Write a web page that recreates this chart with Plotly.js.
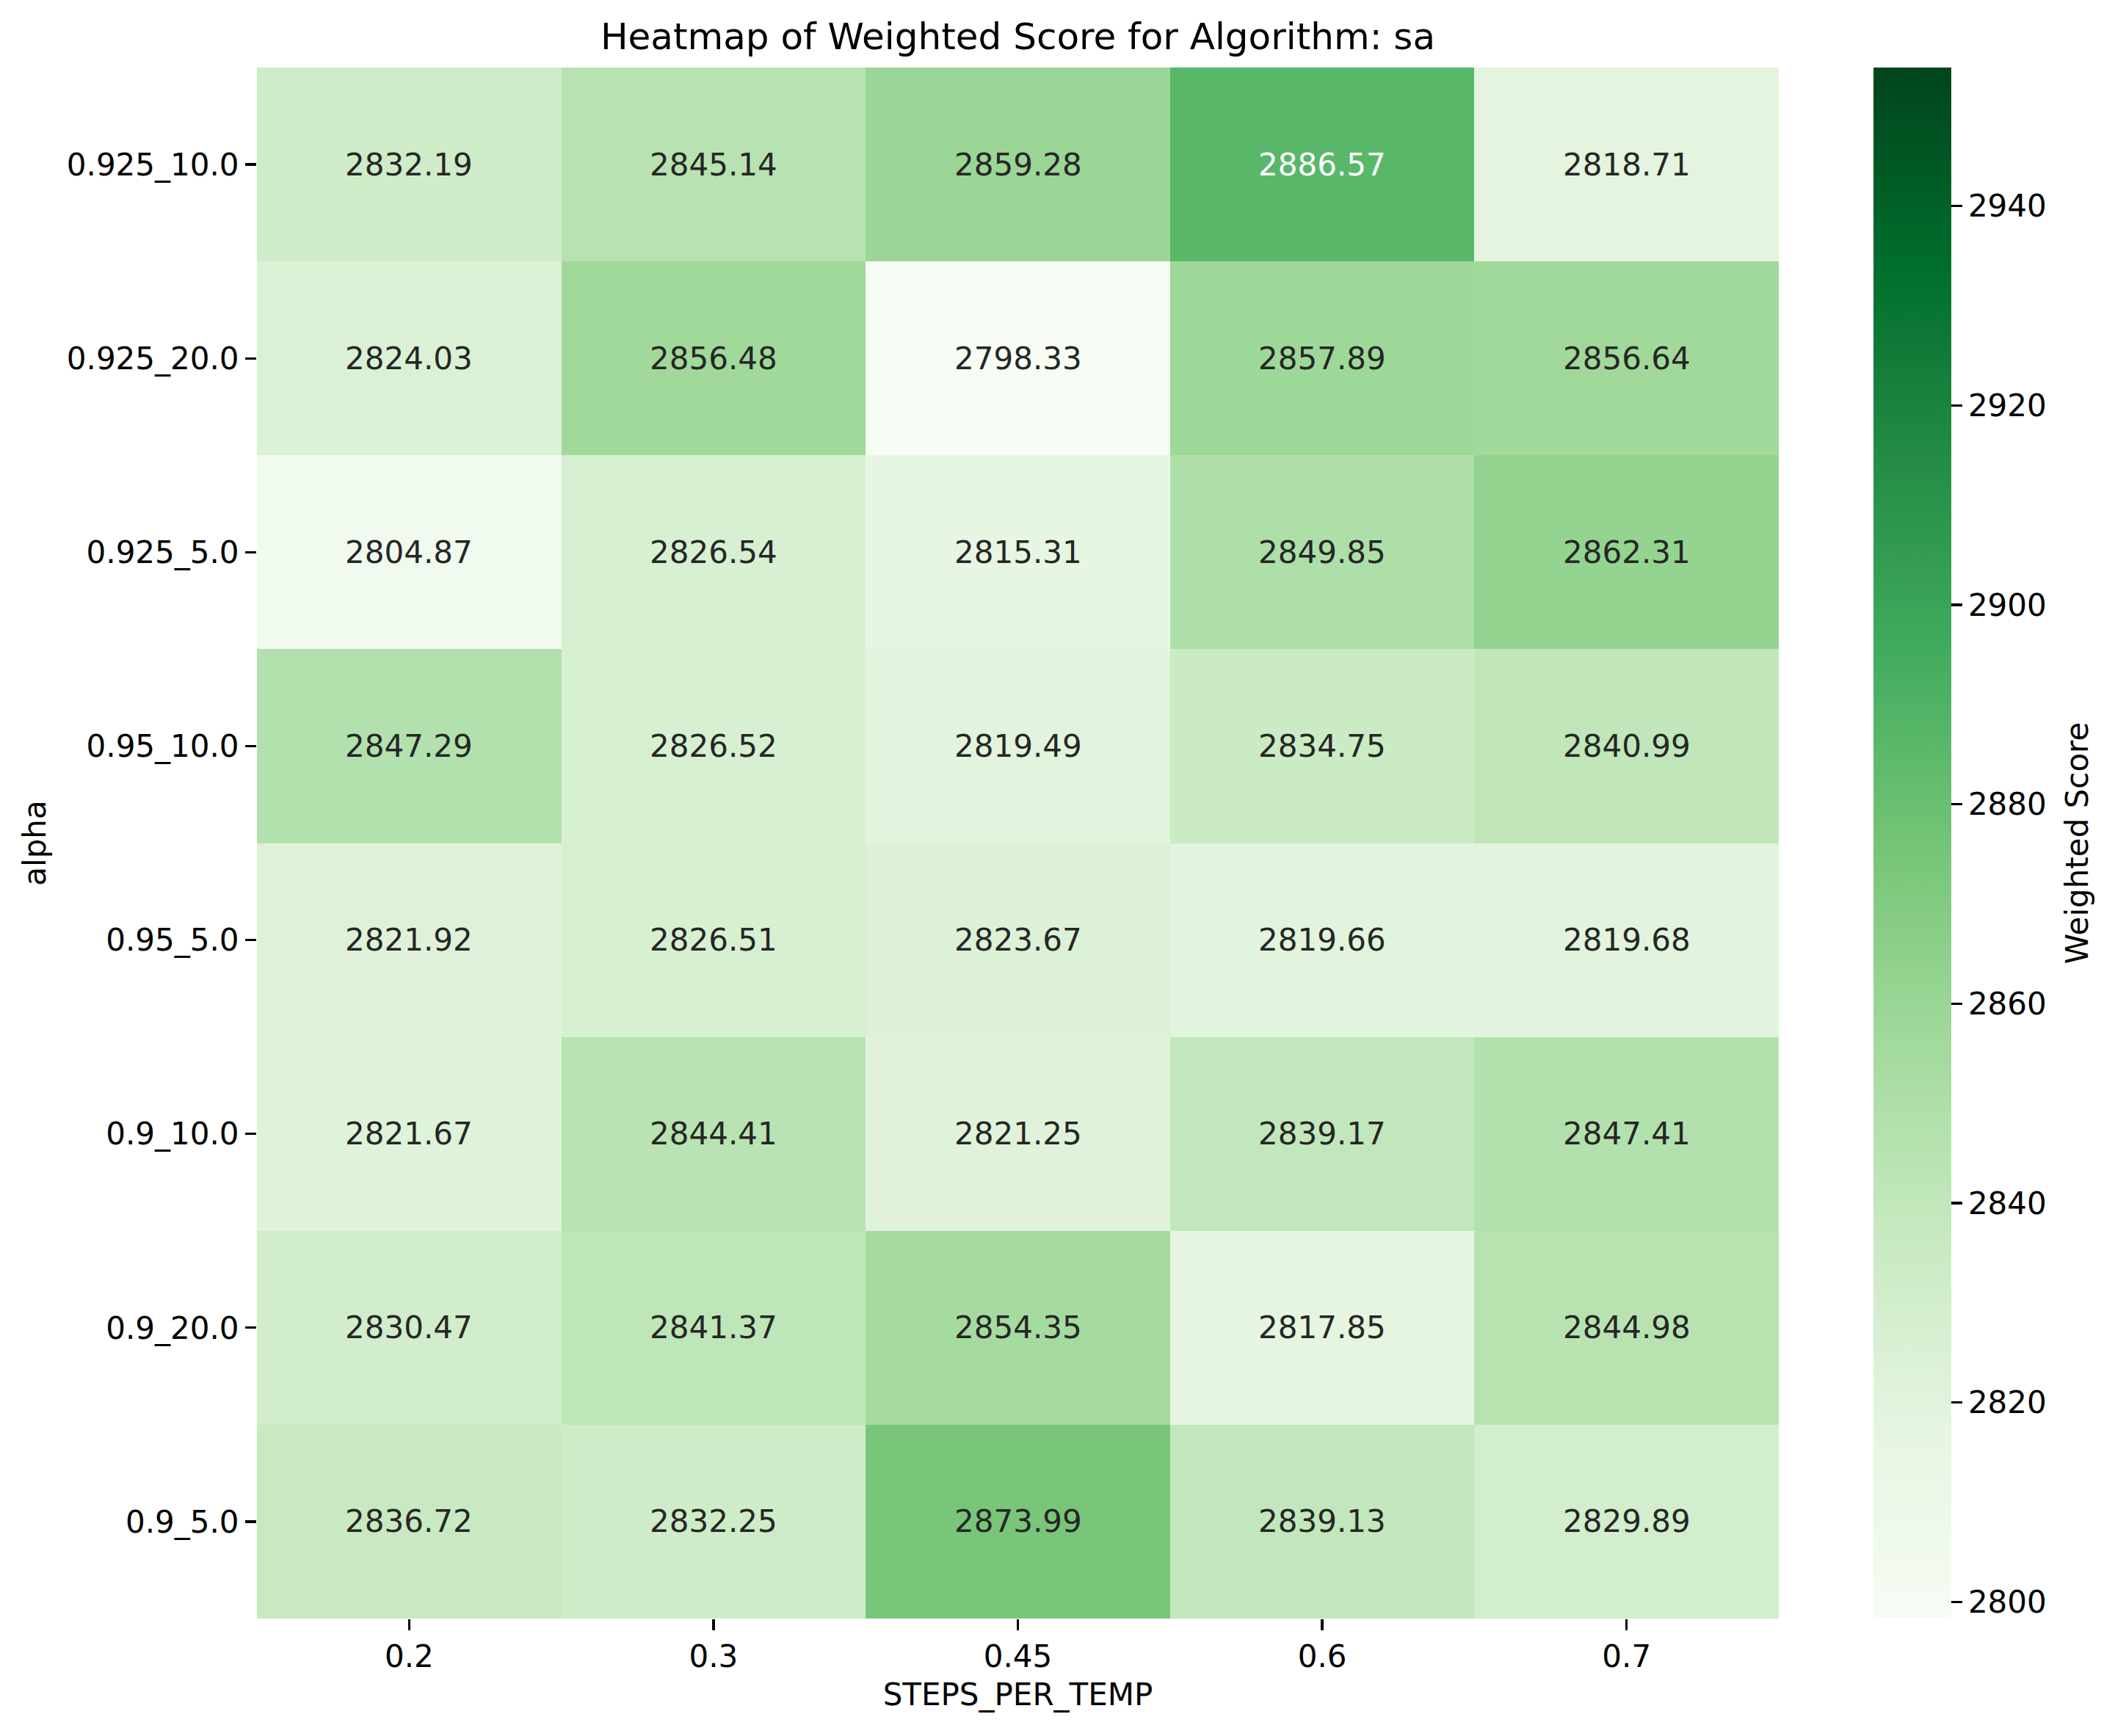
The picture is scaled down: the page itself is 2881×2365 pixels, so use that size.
<!DOCTYPE html>
<html>
<head>
<meta charset="utf-8">
<script src="https://cdn.plot.ly/plotly-3.0.1.min.js"></script>
<style>html,body{margin:0;padding:0;background:#fff;}</style>
</head>
<body>
<div id="chart" style="width:2881px;height:2365px;"></div>
<script>
const stepsPerTemp = ["0.2", "0.3", "0.45", "0.6", "0.7"];
const alphaLabels = ["0.925_10.0", "0.925_20.0", "0.925_5.0", "0.95_10.0", "0.95_5.0", "0.9_10.0", "0.9_20.0", "0.9_5.0"];
const row_0925_10 = [2832.19, 2845.14, 2859.28, 2886.57, 2818.71];
const row_0925_20 = [2824.03, 2856.48, 2798.33, 2857.89, 2856.64];
const row_0925_5  = [2804.87, 2826.54, 2815.31, 2849.85, 2862.31];
const row_095_10  = [2847.29, 2826.52, 2819.49, 2834.75, 2840.99];
const row_095_5   = [2821.92, 2826.51, 2823.67, 2819.66, 2819.68];
const row_09_10   = [2821.67, 2844.41, 2821.25, 2839.17, 2847.41];
const row_09_20   = [2830.47, 2841.37, 2854.35, 2817.85, 2844.98];
const row_09_5    = [2836.72, 2832.25, 2873.99, 2839.13, 2829.89];
const scores = [row_0925_10, row_0925_20, row_0925_5, row_095_10, row_095_5, row_09_10, row_09_20, row_09_5];
const colorbarTicks = [2800, 2820, 2840, 2860, 2880, 2900, 2920, 2940];
const zMin = 2798.33;
const zMax = 2953.9;

const greens = ["#f7fcf5","#e5f5e0","#c7e9c0","#a1d99b","#74c476","#41ab5d","#238b45","#006d2c","#00441b"];
const colorscale = greens.map((c, i) => [i / (greens.length - 1), c]);

function hexToRgb(h){return [parseInt(h.slice(1,3),16),parseInt(h.slice(3,5),16),parseInt(h.slice(5,7),16)];}
function colorAt(v){
  let t = (v - zMin) / (zMax - zMin); t = Math.max(0, Math.min(1, t));
  const n = greens.length - 1; const i = Math.min(n - 1, Math.floor(t * n)); const f = t * n - i;
  const a = hexToRgb(greens[i]), b = hexToRgb(greens[i+1]);
  return a.map((x, k) => (x + (b[k] - x) * f) / 255);
}
function lum(rgb){
  const c = rgb.map(x => x <= 0.03928 ? x / 12.92 : Math.pow((x + 0.055) / 1.055, 2.4));
  return 0.2126 * c[0] + 0.7152 * c[1] + 0.0722 * c[2];
}

const W = 2881, H = 2365;
const mL = 350, mR = W - 2423, mT = 92, mB = H - 2205;
const plotW = W - mL - mR;

const annotations = [];
scores.forEach((row, r) => row.forEach((v, c) => {
  annotations.push({
    x: c, y: r, xref: 'x', yref: 'y',
    text: v.toFixed(2), showarrow: false,
    font: {family: 'DejaVu Sans', size: 42, color: lum(colorAt(v)) > 0.408 ? '#262626' : '#ffffff'}
  });
}));
annotations.push({
  text: 'Weighted Score', showarrow: false, textangle: -90,
  xref: 'paper', yref: 'paper', x: (2829 - mL) / plotW, y: 0.5,
  xanchor: 'center', yanchor: 'middle',
  font: {family: 'DejaVu Sans', size: 42, color: '#000'}
});

const trace = {
  type: 'heatmap',
  x: stepsPerTemp, y: alphaLabels, z: scores,
  zmin: zMin, zmax: zMax, colorscale: colorscale,
  hoverinfo: 'none',
  colorbar: {
    xref: 'container', x: 2552 / W, xanchor: 'left',
    yref: 'paper', y: 0.5, yanchor: 'middle',
    thickness: 106, thicknessmode: 'pixels',
    len: 1, lenmode: 'fraction',
    outlinewidth: 0, xpad: 0, ypad: 0,
    ticks: 'outside', ticklen: 15, tickwidth: 3.3, tickcolor: '#000',
    tickvals: colorbarTicks,
    tickfont: {family: 'DejaVu Sans', size: 42, color: '#000'}
  }
};

const layout = {
  width: W, height: H,
  margin: {l: mL, r: mR, t: mT, b: mB, pad: 0},
  paper_bgcolor: '#fff', plot_bgcolor: '#fff',
  font: {family: 'DejaVu Sans', size: 42, color: '#000'},
  title: {
    text: 'Heatmap of Weighted Score for Algorithm: sa',
    font: {family: 'DejaVu Sans', size: 50, color: '#000'},
    xref: 'paper', x: 0.5, xanchor: 'center',
    yref: 'container', y: 1 - 49 / H, yanchor: 'middle'
  },
  xaxis: {
    type: 'category', showgrid: false, zeroline: false, showline: false,
    ticks: 'outside', ticklen: 15, tickwidth: 3.3, tickcolor: '#000',
    tickfont: {family: 'DejaVu Sans', size: 42, color: '#000'},
    title: {text: 'STEPS_PER_TEMP', standoff: 13, font: {family: 'DejaVu Sans', size: 42, color: '#000'}}
  },
  yaxis: {
    type: 'category', autorange: 'reversed', showgrid: false, zeroline: false, showline: false,
    ticks: 'outside', ticklen: 15, tickwidth: 3.3, tickcolor: '#000',
    tickfont: {family: 'DejaVu Sans', size: 42, color: '#000'},
    title: {text: 'alpha', standoff: 15, font: {family: 'DejaVu Sans', size: 42, color: '#000'}}
  },
  annotations: annotations
};

Plotly.newPlot('chart', [trace], layout, {displayModeBar: false, staticPlot: true});
</script>
</body>
</html>
